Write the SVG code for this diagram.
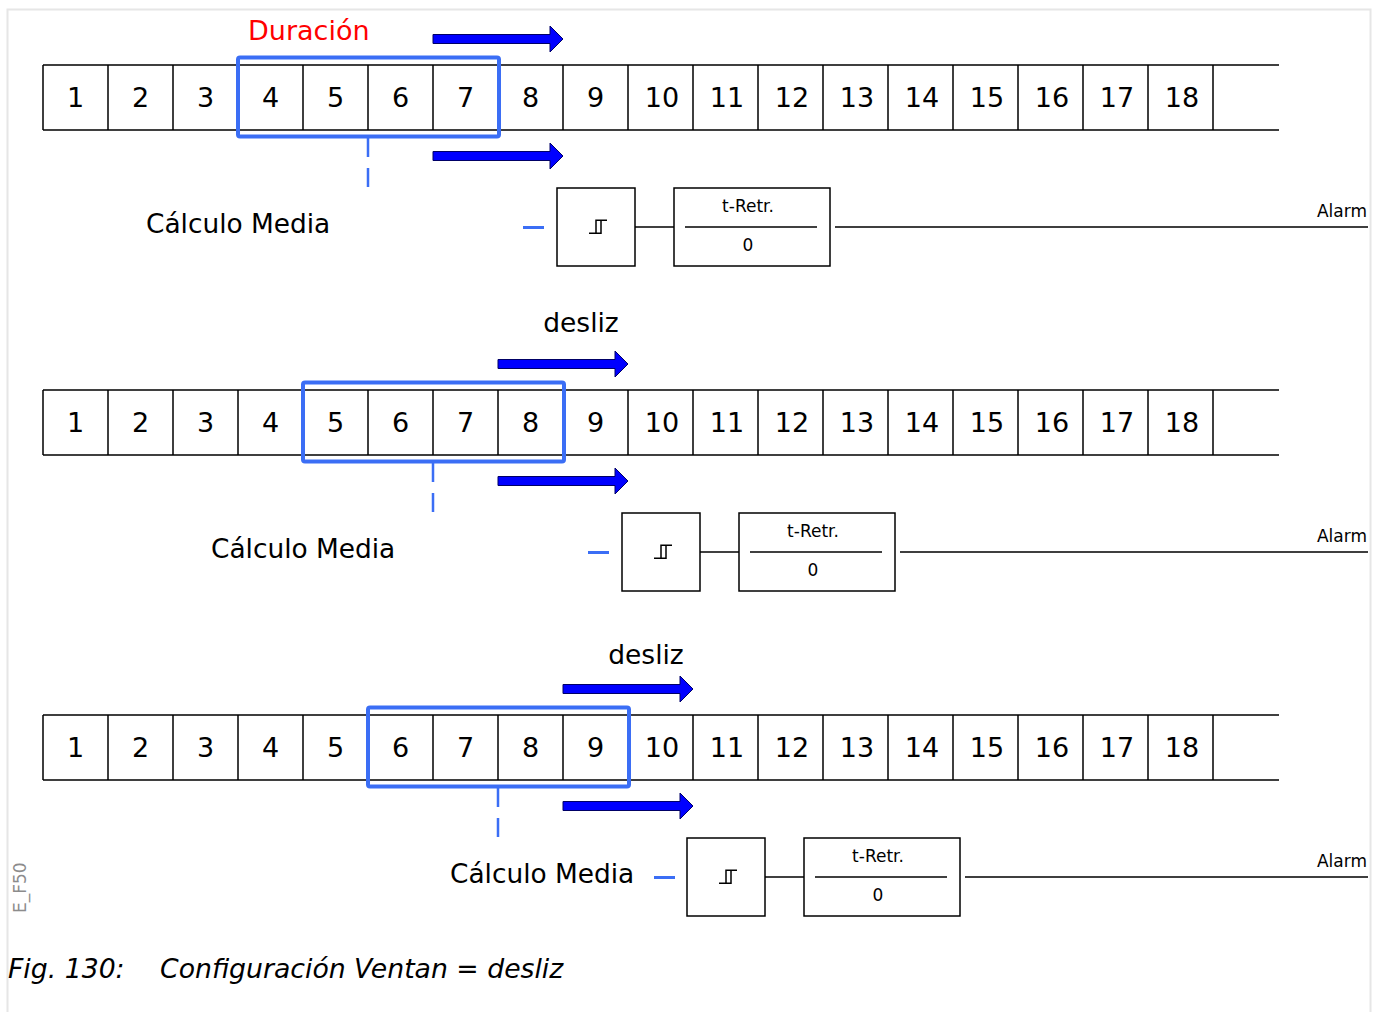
<svg xmlns="http://www.w3.org/2000/svg" width="1384" height="1012" viewBox="0 0 1384 1012">
<style>
.t{font-family:"DejaVu Sans","Liberation Sans",sans-serif;fill:#000}
.num{font-size:27px;text-anchor:middle}
.cm{font-size:26.4px}
.sm{font-size:17px}
.ln{stroke:#000;stroke-width:1.5;fill:none}
.box{stroke:#000;stroke-width:1.5;fill:#fff}
.win{stroke:#3b6ef5;stroke-width:4;fill:none}
.dash{stroke:#3b6ef5;stroke-width:2.5;fill:none;stroke-dasharray:19 11}
.bd{stroke:#3b6ef5;stroke-width:3}
.arr{fill:#0000ff;stroke:#000066;stroke-width:1}
</style>
<defs>
<g id="grid">
<path class="ln" d="M43,65H1279M43,130H1279M43,65V130M108,65V130M173,65V130M238,65V130M303,65V130M368,65V130M433,65V130M498,65V130M563,65V130M628,65V130M693,65V130M758,65V130M823,65V130M888,65V130M953,65V130M1018,65V130M1083,65V130M1148,65V130M1213,65V130"/>
<g class="t num">
<text x="75.5" y="106.5">1</text><text x="140.5" y="106.5">2</text><text x="205.5" y="106.5">3</text><text x="270.5" y="106.5">4</text><text x="335.5" y="106.5">5</text><text x="400.5" y="106.5">6</text><text x="465.5" y="106.5">7</text><text x="530.5" y="106.5">8</text><text x="595.5" y="106.5">9</text><text x="662" y="106.5">10</text><text x="727" y="106.5">11</text><text x="792" y="106.5">12</text><text x="857" y="106.5">13</text><text x="922" y="106.5">14</text><text x="987" y="106.5">15</text><text x="1052" y="106.5">16</text><text x="1117" y="106.5">17</text><text x="1182" y="106.5">18</text>
</g>
</g>
<polygon id="arrow" class="arr" points="0,-4.5 117,-4.5 117,-13 130,0 117,13 117,4.5 0,4.5"/>
<g id="chain">
<rect class="box" x="557" y="188" width="78" height="78"/>
<path class="ln" d="M589,233.3H601V220.3M596,233.3V220.3H607"/>
<path class="ln" d="M635,227H674"/>
<rect class="box" x="674" y="188" width="156" height="78"/>
<path class="ln" d="M685,227H817"/>
<text class="t sm" x="748" y="212" text-anchor="middle">t-Retr.</text>
<text class="t sm" x="748" y="251" text-anchor="middle">0</text>
</g>
</defs>

<rect x="7.5" y="9.5" width="1363" height="1010" fill="none" stroke="#e6e6e6" stroke-width="2"/>

<g id="row1">
<use href="#grid"/>
<text class="t" x="248" y="40" font-size="27" style="fill:#ff0000">Duración</text>
<use href="#arrow" x="433" y="39"/>
<use href="#arrow" x="433" y="156"/>
<rect class="win" x="238" y="57.5" width="261" height="79" rx="2"/>
<path class="dash" d="M368,138V189"/>
<text class="t cm" x="146" y="233">Cálculo Media</text>
<path class="bd" d="M523,227.5H544"/>
<use href="#chain"/>
</g>

<g id="row2">
<use href="#grid" y="325"/>
<text class="t" x="581" y="332" font-size="26.5" text-anchor="middle">desliz</text>
<use href="#arrow" x="498" y="364"/>
<use href="#arrow" x="498" y="481"/>
<rect class="win" x="303" y="382.5" width="261" height="79" rx="2"/>
<path class="dash" d="M433,463V514"/>
<text class="t cm" x="211" y="558">Cálculo Media</text>
<path class="bd" d="M588,552.5H609"/>
<use href="#chain" x="65" y="325"/>
</g>

<g id="row3">
<use href="#grid" y="650"/>
<text class="t" x="646" y="664" font-size="26.5" text-anchor="middle">desliz</text>
<use href="#arrow" x="563" y="689"/>
<use href="#arrow" x="563" y="806"/>
<rect class="win" x="368" y="707.5" width="261" height="79" rx="2"/>
<path class="dash" d="M498,788V839"/>
<text class="t cm" x="450" y="883">Cálculo Media</text>
<path class="bd" d="M654,877.5H675"/>
<use href="#chain" x="130" y="650"/>
</g>

<g id="connectors">
<path class="ln" d="M835,227H1368M900,552H1368M965,877H1368"/>
<text class="t sm" x="1367" y="217" text-anchor="end">Alarm</text>
<text class="t sm" x="1367" y="542" text-anchor="end">Alarm</text>
<text class="t sm" x="1367" y="867" text-anchor="end">Alarm</text>
</g>

<text class="t" transform="translate(26,913) rotate(-90)" font-size="17" style="fill:#8c8c8c">E_F50</text>
<g class="t" font-size="26.7" font-style="italic">
<text x="8" y="978">Fig. 130:</text>
<text x="160" y="978">Configuración Ventan = desliz</text>
</g>
</svg>
